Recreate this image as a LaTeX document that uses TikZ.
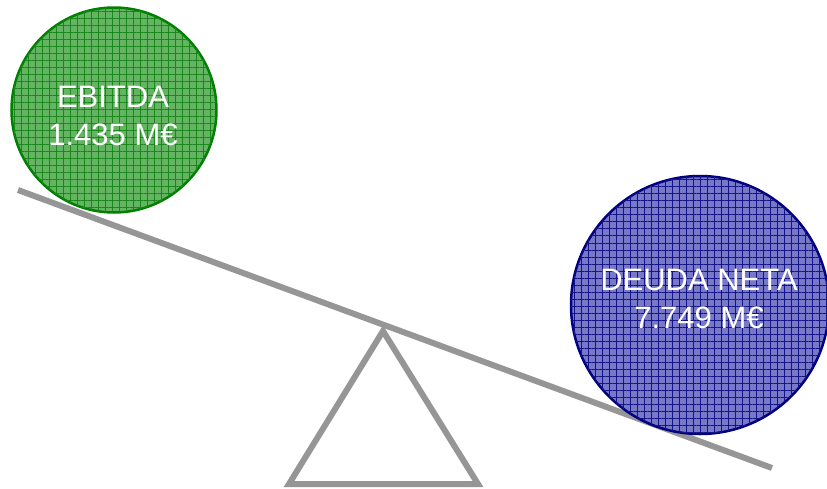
\documentclass[tikz,border=0pt]{standalone}
\usepackage{fontspec}
\setmainfont{Liberation Sans}
\usetikzlibrary{patterns.meta}
\definecolor{gbase}{RGB}{100,180,100}
\definecolor{gline}{RGB}{25,135,25}
\definecolor{gborder}{RGB}{0,128,0}
\definecolor{bbase}{RGB}{120,120,200}
\definecolor{bline}{RGB}{20,20,135}
\definecolor{bborder}{RGB}{0,0,128}
\definecolor{beamgray}{RGB}{150,150,150}
\begin{document}
\begin{tikzpicture}[x=1pt,y=-1pt,
  ball/.style={circle, line width=2.5pt, inner sep=0pt},
  balltext/.style={text=white, align=center, font=\fontsize{31}{38}\selectfont},
  gridfill/.style={postaction={pattern={Lines[angle=0,distance=7pt,line width=1pt]}, pattern color=#1},
    postaction={pattern={Lines[angle=90,distance=7pt,line width=1pt]}, pattern color=#1}},
  bar/.style={draw=beamgray, line width=6pt}]
\useasboundingbox (0,0) rectangle (827,488);
\draw[bar] (18,190) -- (772,468);
\draw[bar] (383,331) -- (478,484) -- (289,484) -- cycle;
\node[ball, draw=gborder, fill=gbase, gridfill=gline, minimum size=205pt] (ebitda) at (114,110) {};
\node[balltext] (ebitdatext) at (113,116) {EBITDA\\1.435 M€};
\node[ball, draw=bborder, fill=bbase, gridfill=bline, minimum size=258pt] (deuda) at (700,305) {};
\node[balltext] (deudatext) at (699,299) {DEUDA NETA\\7.749 M€};
\end{tikzpicture}
\end{document}
